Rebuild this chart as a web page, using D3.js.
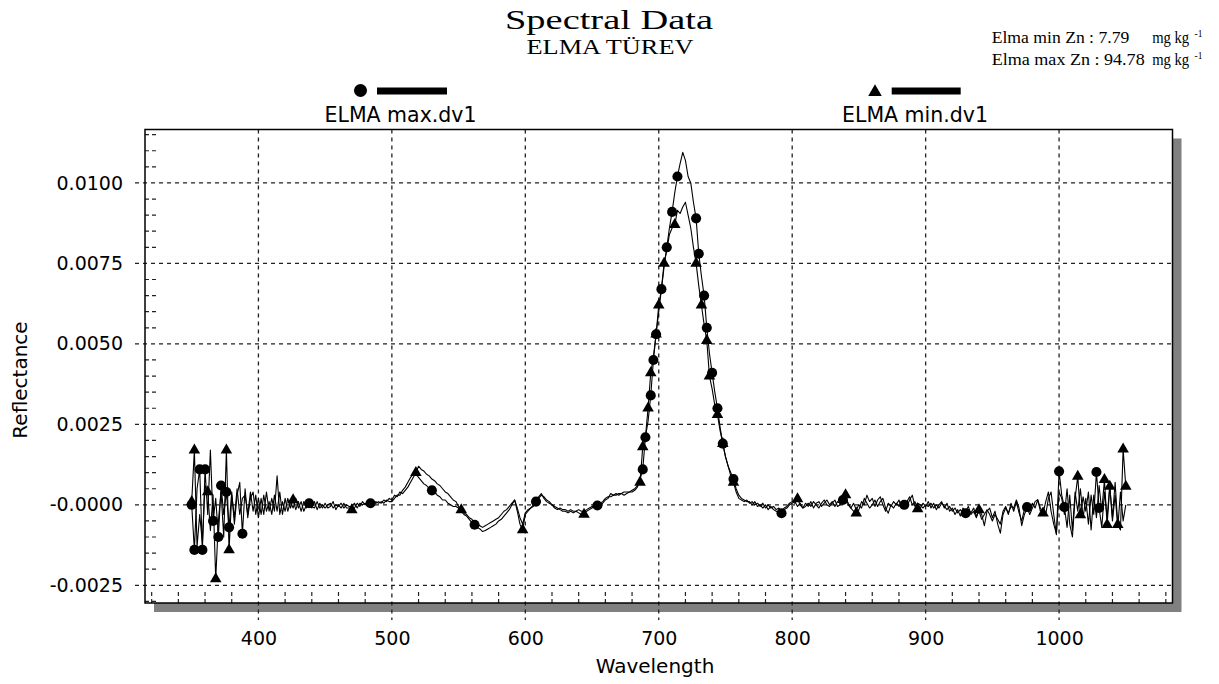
<!DOCTYPE html>
<html>
<head>
<meta charset="utf-8">
<script src="https://cdn.jsdelivr.net/npm/d3@7"></script>
<style>
  body { margin: 0; background: #fff; }
</style>
</head>
<body>
<svg id="chart" width="1219" height="684"></svg>
<script>
// wavelength grid (nm), 2 nm step
const wavelengths = d3.range(350, 1051, 2)

// first derivative reflectance, in units of 1e-4
const maxDv1 = [
  0, -14, 5, 11, -14, 11, -3, 17, -5, 2,            // 350
  -10, 6, -3, 4, -7, 4, -6, 3, 7, -9,               // 370
  5, -4, 2, 4, -3, 2, -3, 3, -2, 1,                 // 390
  -3, 3, -2, 4, -3, 2, -2, 1, -1, 2,                // 410
  -1, 1, -2, 0, 0.5, -0.5, -1, 1, -1, 0,            // 430
  -1, 0, 0.5, -1, 0, -0.5, 0.5, -1, 0, -0.5,        // 450
  -0.5, 0.5, -1, 0.5, 0, 0.5, -0.5, 0.5, 0, 1,      // 470
  0.5, 1, 0.5, 1.5, 1, 1, 2, 3, 3, 4.5,             // 490
  5.5, 7, 8.5, 9.5, 9.5, 8.5, 7.5, 6.5, 6, 5,       // 510
  4.5, 4, 3, 2.5, 1.5, 1.5, 0.5, 0, -0.5, -0.5,     // 530
  -1, -2, -3, -3.5, -4.5, -5.5, -6.2, -7, -7.5, -8.3, // 550
  -8, -7.5, -7, -6.5, -6, -5, -4.5, -3.5, -2.5, -1.5, // 570
  0, 1.5, -1, -4, -6, -2.5, -1.5, -1, -0.5, 1,      // 590
  2, 3, 2.5, 1.5, 1, 0, -1, -1.5, -1, -1.5,         // 610
  -1.5, -2, -1.5, -2, -2, -1.5, -2, -2, -1.5, -1,   // 630
  -0.5, -0.5, -0.2, 0, 0.5, 1.5, 2, 3.5, 3, 3.5,    // 650
  3, 3.5, 3, 3.5, 4, 4, 4.5, 5.5, 8, 11,            // 670
  21, 26, 34, 45, 53, 60, 67, 74, 80, 86,           // 690
  91, 97, 102, 106, 109.5, 107, 102, 100, 94, 89,   // 710
  78, 71, 65, 55, 47, 41, 35, 30, 24, 19,           // 730
  15, 12, 10, 8, 5, 3, 2, 1.5, 1, 1,                // 750
  0, 1, -0.5, 0, -1, 0, -1.5, -0.5, -1.5, -2,       // 770
  -2.5, -2.6, -1.5, -1, 0, 0.5, 1, -0.5, 0.5, -1,   // 790
  -0.5, 0.5, -0.5, 1, 0, -1, 0.5, 1.5, 0, -0.5,     // 810
  0.5, 1.5, -0.5, 0, 1.5, 2.5, 0.5, -1, 0.5, -1.5,  // 830
  0, -1, 2, 0.5, -1, 0, 1.5, -0.5, 1, 2,            // 850
  -1, -2.6, 0, -1, 0.5, -0.5, 1, 0, -0.5, 1.5,      // 870
  3, -0.5, 0.5, 0, -1, 0, -0.5, 0.5, -1, 0,         // 890
  -1, 0.5, -0.5, -1.5, -0.5, -2, -1, -2.5, -1.5, -2.5, // 910
  -2.6, -1.5, -2.5, -1, -3.5, -2, -4.5, -3, -1.5, -3, // 930
  -5, -3, -4.5, -6, -2, -0.5, -3, 0.5, -2, 1,       // 950
  -2.5, -5, -1.5, -0.7, -3, -1, 1, 1.6, -2, -1,     // 970
  -3, 2, 4, -3, -9.3, 10.4, 3, -0.7, -7, 3,         // 990
  -8, 4, -2, 5, -4, 2, -6, 3, -3, 10.2,             // 1010
  -1, -7, 4, -4, 6, -5, 3, -7, 4, -5,               // 1030
  0                                                 // 1050
]

const minDv1 = [
  1, 17, -13, -3, -12, 6, 4, -8, 3, -23,            // 350
  -5, 4, -10, 17, -14, 3, -4, 5, -3, 2,             // 370
  3, -3, 4, -2, 3, -4, 2, -3, 4, -2,                // 390
  2, -2, 9, -3, 1, -2, 2, -1, 1.5, -1.5,            // 410
  1, -2, 1, -1, 0.5, -1, 1, -1.5, 0.5, -1,          // 430
  0.5, -1, -0.5, 1, -1.5, 0, -1, 0.5, -1, -1,       // 450
  -1.6, -1, 0.5, -0.5, 1, 0, 0.5, 0, 1, 0.5,        // 470
  1, 0.5, 1.5, 1, 2, 1.5, 3, 2.5, 4, 3.5,           // 490
  4.5, 5.5, 7, 8.5, 10, 12, 11, 10.5, 9.5, 9,       // 510
  8, 7.5, 6.5, 6, 5, 4, 3.5, 2.5, 1.5, 1,           // 530
  -0.5, -1.6, -2.5, -3, -4, -4.5, -5.5, -6, -6.5, -7, // 550
  -6.5, -6, -5.5, -5, -4.5, -4, -3, -2, -1.5, -0.5, // 570
  0.5, 1.5, -2, -6, -7.8, -3, -2, -1, 0, 1.5,       // 590
  2.5, 3.5, 2, 1, 0.5, 0, -0.5, -1, -1.5, -2,       // 610
  -2, -2.5, -2, -2.5, -2, -2.5, -3, -3, -2, -1.5,   // 630
  -1, -0.5, 0, 0.5, 1, 2, 2.5, 2.5, 3, 3,           // 650
  3.5, 3.5, 4, 4, 4, 4.5, 5, 6, 7, 18,              // 670
  21, 30, 41, 46, 53, 62, 67, 75, 79, 84,           // 690
  86, 87, 91.5, 90.5, 92.5, 94, 90, 86, 80, 75,     // 710
  68, 62, 56, 51, 40, 36, 31, 28, 23, 19,           // 730
  15, 12, 9, 7, 4, 2, 1.5, 1, 1.5, 0.5,             // 750
  1, 0, 0.5, -0.5, 0.5, -1, 0, -1, -0.5, -1.5,      // 770
  -1, -2, -1, -0.5, 0.5, 1, 0.5, 1.8, 0, -1,        // 790
  0.5, -0.5, 1, -1, 0.5, 1, -0.5, 0.5, 1.5, 0,      // 810
  1, -0.5, 1, 0.5, 2, 3.1, 0, -1, -2, -2.6,         // 830
  -1.5, 1, 0, 3, 1, 2, -0.5, 1.5, 2.5, 0,           // 850
  -2, 0.5, -0.5, 1, 0, 1.5, -1, 0.5, 1, 2.5,        // 870
  0, 1, -1.3, -1, 0.5, -0.5, 1, -1, 0.5, -1.5,      // 890
  0, 1, -1, 0.5, -2, -1, -3, -1.5, -3.5, -1,        // 910
  -2, -0.5, -3, -2, -4, -1.6, -3, -6.5, -2, -1,     // 930
  -4, -2, -6, -8.8, -3, -1, -2.5, -0.5, -1, 1.5,    // 950
  -1, -6.5, -3, -1, -2, 0.5, -1, 1.5, -1, -2.6,     // 970
  1, 4, -2, -6, -9, 4, 2, -3, 5, -6,                // 990
  -10, 2, 8.8, -3.1, 2.5, -2, 4, -7.8, 3, -4,       // 1010
  6, -2, 7.8, -6.2, 5.7, -4, 7, -6.2, -7.8, 17.3,   // 1030
  5.7                                               // 1050
]

// wavelengths where the software put a symbol on each curve
const maxMarks = [350, 352, 356, 358, 360, 366, 370, 372, 376, 378, 388,
  438, 484, 530, 562, 608, 654, 688, 690, 694, 696, 698, 702, 706, 710, 714,
  728, 730, 734, 736, 740, 744, 748, 756, 792, 838, 884, 930, 976, 1000, 1004,
  1028, 1030]
const minMarks = [350, 352, 362, 368, 376, 378, 426, 470, 518, 552, 598, 644,
  686, 688, 692, 694, 698, 700, 704, 712, 728, 732, 736, 738, 744, 748, 756,
  804, 840, 848, 894, 940, 988, 1014, 1016, 1034, 1036, 1038, 1044, 1048, 1050]

const xTicks = [400, 500, 600, 700, 800, 900, 1000]
const xMinor = d3.range(320, 1081, 20)
const yTicks = [-0.0025, 0, 0.0025, 0.005, 0.0075, 0.01]
const yTickLabels = ['-0.0025', '-0.0000', '0.0025', '0.0050', '0.0075', '0.0100']
const yMinor = d3.range(-30, 116, 5).map((d) => d / 1e4)

const seriesNames = ['ELMA max.dv1', 'ELMA min.dv1']
const noteLabels = ['Elma min Zn : 7.79', 'Elma max Zn : 94.78']

const sans = 'DejaVu Sans, sans-serif'
const serif = 'Liberation Serif, Times New Roman, serif'

const frame = {left: 145, top: 129.5, right: 1172.5, bottom: 603}
const shadow = 9

const svg = d3.select('#chart')

const x = d3.scaleLinear().domain([315, 1085]).range([frame.left, frame.right])
const y = d3.scaleLinear().domain([-0.00305, 0.01166]).range([frame.bottom, frame.top])

const toPoints = (vals) => vals.map((v, i) => ({w: wavelengths[i], r: v * 1e-4}))
const series = [
  {name: seriesNames[0], points: toPoints(maxDv1), marks: maxMarks, shape: d3.symbolCircle, size: 80},
  {name: seriesNames[1], points: toPoints(minDv1), marks: minMarks, shape: d3.symbolTriangle, size: 58}
]

// titles
svg.append('text')
  .attr('x', 609).attr('y', 29)
  .attr('text-anchor', 'middle')
  .attr('textLength', 208).attr('lengthAdjust', 'spacingAndGlyphs')
  .style('font-family', serif).style('font-size', '28px')
  .text('Spectral Data')
svg.append('text')
  .attr('x', 610).attr('y', 54)
  .attr('text-anchor', 'middle')
  .attr('textLength', 167).attr('lengthAdjust', 'spacingAndGlyphs')
  .style('font-family', serif).style('font-size', '20px')
  .text('ELMA TÜREV')

// Zn notes, top right
let notes = svg.append('g').style('font-family', serif)
noteLabels.forEach((t, i) => {
  let by = 42.7 + i * 22.3
  notes.append('text')
    .attr('x', 991.7).attr('y', by)
    .attr('textLength', i ? 153 : 137.6).attr('lengthAdjust', 'spacingAndGlyphs')
    .style('font-size', '17.5px')
    .text(t)
  notes.append('text')
    .attr('x', 1152.2).attr('y', by)
    .attr('textLength', 37).attr('lengthAdjust', 'spacingAndGlyphs')
    .style('font-size', '17.5px')
    .text('mg kg')
  notes.append('text')
    .attr('x', 1194.5).attr('y', by - 6)
    .style('font-size', '9.5px')
    .text('-1')
})

// legend
let legendPos = [{sym: 360.5, x0: 377, x1: 447, label: 400.5}, {sym: 875, x0: 891.7, x1: 960.7, label: 915}]
series.forEach((s, i) => {
  let p = legendPos[i]
  svg.append('path')
    .attr('d', d3.symbol(s.shape, i ? 80 : 133)())
    .attr('transform', `translate(${p.sym},${i ? 92 : 90.5})`)
    .attr('fill', '#000')
  svg.append('line')
    .attr('x1', p.x0).attr('x2', p.x1)
    .attr('y1', 91).attr('y2', 91)
    .attr('stroke', '#000').attr('stroke-width', 7)
  svg.append('text')
    .attr('x', p.label).attr('y', 122)
    .attr('text-anchor', 'middle')
    .style('font-family', sans).style('font-size', '20.5px')
    .text(s.name)
})

// frame with drop shadow
let fw = frame.right - frame.left
let fh = frame.bottom - frame.top
svg.append('rect')
  .attr('x', frame.left + shadow).attr('y', frame.top + shadow)
  .attr('width', fw).attr('height', fh)
  .attr('fill', '#808080')
svg.append('rect')
  .attr('x', frame.left).attr('y', frame.top)
  .attr('width', fw).attr('height', fh)
  .attr('fill', '#fff')

svg.append('clipPath').attr('id', 'plot-clip')
  .append('rect')
  .attr('x', frame.left).attr('y', frame.top)
  .attr('width', fw).attr('height', fh)

// grid: dashed, major ticks poke out of the frame
let grid = svg.append('g')
  .attr('stroke', '#222').attr('stroke-width', 1.3).attr('stroke-dasharray', '4,4')
grid.selectAll('.gx').data(xTicks).enter()
  .append('line').classed('gx', true)
  .attr('x1', (d) => x(d)).attr('x2', (d) => x(d))
  .attr('y1', frame.top).attr('y2', frame.bottom + 17)
grid.selectAll('.gy').data(yTicks).enter()
  .append('line').classed('gy', true)
  .attr('x1', frame.left - 10).attr('x2', frame.right)
  .attr('y1', (d) => y(d)).attr('y2', (d) => y(d))

// minor ticks inside the frame
let minor = svg.append('g')
  .attr('stroke', '#222').attr('stroke-width', 1.2).attr('stroke-dasharray', '4,3')
minor.selectAll('.mx').data(xMinor.filter((d) => !xTicks.includes(d))).enter()
  .append('line').classed('mx', true)
  .attr('x1', (d) => x(d)).attr('x2', (d) => x(d))
  .attr('y1', frame.bottom).attr('y2', frame.bottom - 11)
minor.selectAll('.my').data(yMinor.filter((d) => !yTicks.some((t) => Math.abs(t - d) < 1e-9))).enter()
  .append('line').classed('my', true)
  .attr('x1', frame.left).attr('x2', frame.left + 11)
  .attr('y1', (d) => y(d)).attr('y2', (d) => y(d))

// curves
let line = d3.line().x((d) => x(d.w)).y((d) => y(d.r))
let plot = svg.append('g').attr('clip-path', 'url(#plot-clip)')
series.forEach((s) => {
  plot.append('path')
    .datum(s.points)
    .attr('d', line)
    .attr('fill', 'none')
    .attr('stroke', '#000')
    .attr('stroke-width', 1.1)
    .attr('stroke-linejoin', 'round')
})

// symbols
series.forEach((s) => {
  let marks = s.marks.map((w) => s.points[wavelengths.indexOf(w)])
  plot.selectAll(null).data(marks).enter()
    .append('path')
    .attr('d', d3.symbol(s.shape, s.size)())
    .attr('transform', (d) => `translate(${x(d.w)},${y(d.r)})`)
    .attr('fill', '#000')
})

svg.append('rect')
  .attr('x', frame.left).attr('y', frame.top)
  .attr('width', fw).attr('height', fh)
  .attr('fill', 'none').attr('stroke', '#000').attr('stroke-width', 1.5)

// tick labels
let xAxis = svg.append('g')
  .attr('transform', `translate(0,${frame.bottom})`)
  .call(d3.axisBottom(x).tickValues(xTicks).tickFormat((d) => d).tickSize(0).tickPadding(28.5))
xAxis.select('.domain').remove()
xAxis.selectAll('text').style('font-family', sans).style('font-size', '19px').attr('fill', '#000')

let yAxis = svg.append('g')
  .attr('transform', `translate(${frame.left},0)`)
  .call(d3.axisLeft(y).tickValues(yTicks).tickFormat((d, i) => yTickLabels[i]).tickSize(0).tickPadding(22))
yAxis.select('.domain').remove()
yAxis.selectAll('text').style('font-family', sans).style('font-size', '19px').attr('fill', '#000')

// axis titles
svg.append('text')
  .attr('x', 655).attr('y', 673)
  .attr('text-anchor', 'middle')
  .style('font-family', sans).style('font-size', '20px')
  .text('Wavelength')
svg.append('text')
  .attr('transform', 'translate(27,380) rotate(-90)')
  .attr('text-anchor', 'middle')
  .style('font-family', sans).style('font-size', '20px')
  .text('Reflectance')
</script>
</body>
</html>
